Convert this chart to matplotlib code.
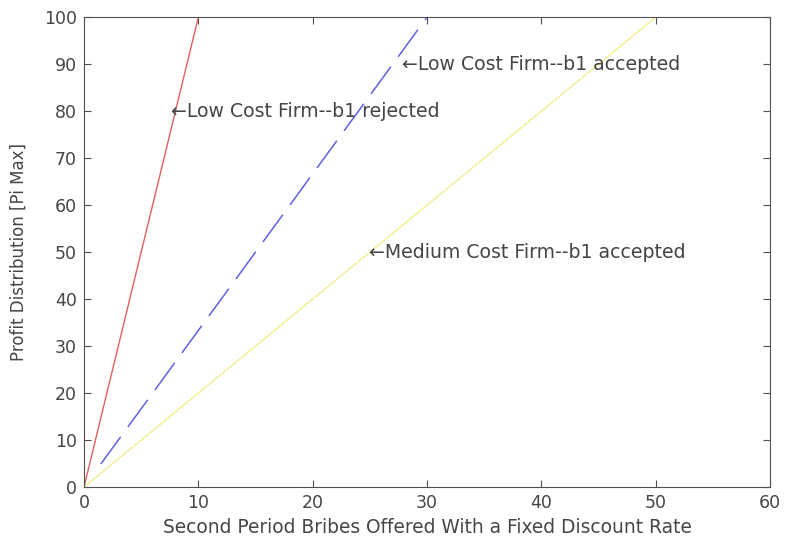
import matplotlib
matplotlib.use("Agg")
import matplotlib.pyplot as plt

plt.rcParams['font.family'] = ['DejaVu Sans']

# line data: bribe offered vs profit distribution
x_rejected = [0, 10]
y_rejected = [0, 100]
x_low_acc = [1, 30]
y_low_acc = [3.33, 100]
x_med_acc = [0, 50]
y_med_acc = [0, 100]

labels = ["\u2190Low Cost Firm--b1 rejected",
          "\u2190Low Cost Firm--b1 accepted",
          "\u2190Medium Cost Firm--b1 accepted"]
label_x = [7.6, 27.8, 24.9]
label_y = [80, 90, 50]

txt = "#454545"
fs = 13.6

fig = plt.figure(figsize=(7.85, 5.37), dpi=100)
ax = fig.add_axes([0.107, 0.093, 0.874, 0.875])

ax.plot(x_rejected, y_rejected, color="#e06060", linewidth=1.0)
ax.plot(x_low_acc, y_low_acc, color="#6060dd", linewidth=1.1,
        linestyle=(24, (22, 8)))
ax.plot(x_med_acc, y_med_acc, color="#f5f0a0", linewidth=1.2)

for t, lx, ly in zip(labels, label_x, label_y):
    ax.text(lx, ly, t, fontsize=fs, color=txt, ha="left", va="center")

ax.set_xlim(0, 60)
ax.set_ylim(0, 100)
ax.set_xticks(range(0, 61, 10))
ax.set_yticks(range(0, 101, 10))
ax.tick_params(direction="in", top=True, right=True, labelsize=12.5,
               labelcolor=txt, color="#505050", length=5, pad=5)
for s in ax.spines.values():
    s.set_color("#505050")
ax.set_xlabel("Second Period Bribes Offered With a Fixed Discount Rate",
              fontsize=13.4, color=txt, labelpad=4)
ax.set_ylabel("Profit Distribution [Pi Max]", fontsize=12, color=txt, labelpad=12)

fig.savefig("out.png", dpi=100)
